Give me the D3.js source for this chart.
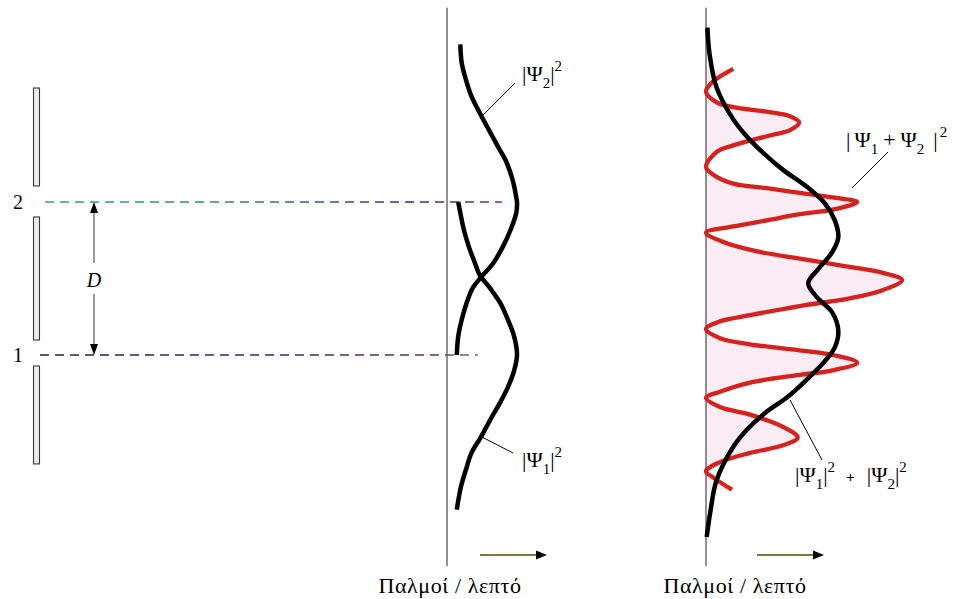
<!DOCTYPE html>
<html><head><meta charset="utf-8">
<script src="https://cdn.jsdelivr.net/npm/d3@7"></script>
<style>html,body{margin:0;padding:0;background:#fff;} svg{display:block;}</style>
</head><body>
<svg id="chart" width="957" height="599"></svg>
<script>
// ---- DATA (vertical positions in units of slit separation D: slit 1 = 0, slit 2 = 1) ----
const slitLabels = ["1", "2"];
const slitPositions = [0, 1];
const barrierTop = [1.745, 0.902, -0.072];
const barrierBottom = [1.105, 0.098, -0.712];
const screenTop = 2.27;
const screenBottom = -1.38;

// |Psi2|^2 (middle panel)
const psi2Pos = [2.03, 1.91, 1.80, 1.69, 1.58, 1.47, 1.36, 1.26, 1.14, 1.03, 1.00, 0.93, 0.82, 0.71, 0.60, 0.51, 0.44, 0.34, 0.23, 0.12, 0.00];
const psi2Val = [0.19, 0.21, 0.27, 0.35, 0.47, 0.60, 0.73, 0.85, 0.94, 0.99, 1.00, 0.99, 0.91, 0.80, 0.66, 0.49, 0.37, 0.28, 0.21, 0.16, 0.14];
// |Psi1|^2 (middle panel)
const psi1Pos = [1.00, 0.93, 0.82, 0.71, 0.60, 0.52, 0.44, 0.34, 0.23, 0.12, 0.00, -0.10, -0.21, -0.31, -0.43, -0.54, -0.64, -0.75, -0.86, -1.01];
const psi1Val = [0.16, 0.19, 0.24, 0.31, 0.40, 0.47, 0.61, 0.76, 0.87, 0.96, 1.00, 0.96, 0.87, 0.76, 0.61, 0.48, 0.35, 0.27, 0.20, 0.14];
// |Psi1|^2 + |Psi2|^2 (right panel, black)
const sumPos = [2.14, 1.97, 1.75, 1.54, 1.43, 1.32, 1.21, 1.10, 0.99, 0.88, 0.77, 0.67, 0.56, 0.47, 0.38, 0.28, 0.16, 0.05, -0.05, -0.16, -0.28, -0.38, -0.49, -0.60, -0.82, -1.03, -1.19];
const sumVal = [0.02, 0.05, 0.15, 0.39, 0.58, 0.82, 1.10, 1.44, 1.70, 1.84, 1.89, 1.80, 1.60, 1.46, 1.58, 1.80, 1.89, 1.84, 1.68, 1.44, 1.15, 0.84, 0.58, 0.39, 0.15, 0.06, 0.01];
// |Psi1 + Psi2|^2 (right panel, red)
const interfPos = [1.87, 1.82, 1.77, 1.72, 1.65, 1.62, 1.59, 1.56, 1.52, 1.47, 1.43, 1.37, 1.33, 1.23, 1.18, 1.12, 1.09, 1.06, 1.03, 1.00, 0.95, 0.92, 0.88, 0.84, 0.80, 0.74, 0.68, 0.63, 0.58, 0.54, 0.49, 0.42, 0.37, 0.32, 0.26, 0.22, 0.17, 0.11, 0.07, 0.03, 0.00, -0.05, -0.10, -0.13, -0.18, -0.24, -0.28, -0.34, -0.39, -0.47, -0.54, -0.59, -0.64, -0.70, -0.76, -0.80, -0.88];
const interfVal = [0.39, 0.20, 0.06, 0.00, 0.16, 0.39, 0.87, 1.20, 1.33, 1.20, 0.87, 0.39, 0.16, 0.00, 0.10, 0.39, 0.87, 1.34, 1.81, 2.16, 1.81, 1.34, 0.87, 0.39, 0.00, 0.24, 0.70, 1.34, 2.00, 2.50, 2.80, 2.50, 2.05, 1.34, 0.63, 0.20, 0.00, 0.20, 0.63, 1.34, 1.81, 2.16, 1.81, 1.34, 0.63, 0.20, 0.00, 0.20, 0.63, 1.10, 1.31, 1.10, 0.63, 0.20, 0.00, 0.10, 0.37];

const axisLabel = "Παλμοί / λεπτό";
const distanceLabel = "D";

// ---- DRAWING ----
const svg = d3.select("#chart");
const serif = "'Liberation Serif','Times New Roman',serif";
const y = d3.scaleLinear().domain([0, 1]).range([355, 202]);
const xMid = d3.scaleLinear().domain([0, 1]).range([447, 517]);
const xRight = d3.scaleLinear().domain([0, 1]).range([706, 776]);

const defs = svg.append("defs");
function grad(id, x1, x2, stops) {
  const g = defs.append("linearGradient").attr("id", id).attr("gradientUnits", "userSpaceOnUse")
    .attr("x1", x1).attr("x2", x2).attr("y1", 0).attr("y2", 0);
  stops.forEach(([o, c]) => g.append("stop").attr("offset", o).attr("stop-color", c));
}
grad("g2", 45, 502, [[0, "#2aa58f"], [0.45, "#2f73b0"], [0.8, "#2a2f9a"], [1, "#8a2a5a"]]);
grad("g1", 40, 478, [[0, "#1b1f5e"], [0.6, "#2a2f8a"], [0.9, "#7a2a50"], [1, "#3a8a70"]]);

// dashed lines from slits
svg.append("line").attr("x1", 45).attr("x2", 502).attr("y1", y(1)).attr("y2", y(1))
  .attr("stroke", "url(#g2)").attr("stroke-width", 1.4).attr("stroke-dasharray", "9,6");
svg.append("line").attr("x1", 40).attr("x2", 478).attr("y1", y(0)).attr("y2", y(0))
  .attr("stroke", "url(#g1)").attr("stroke-width", 1.4).attr("stroke-dasharray", "9,6");

// barrier with slits
barrierTop.forEach((t, i) => {
  svg.append("rect").attr("x", 33.5).attr("width", 6).attr("y", y(t)).attr("height", y(barrierBottom[i]) - y(t))
    .attr("fill", "#ececec").attr("stroke", "#3a3a3a").attr("stroke-width", 1.1);
});
slitLabels.forEach((s, i) => {
  svg.append("text").attr("x", 18).attr("y", y(slitPositions[i]) + 7).attr("text-anchor", "middle")
    .attr("font-family", serif).attr("font-size", 20).text(s);
});

// D arrow
const ax = 94;
svg.append("line").attr("x1", ax).attr("x2", ax).attr("y1", y(1) + 9).attr("y2", 263).attr("stroke", "#333").attr("stroke-width", 1);
svg.append("line").attr("x1", ax).attr("x2", ax).attr("y1", 294).attr("y2", y(0) - 9).attr("stroke", "#333").attr("stroke-width", 1);
svg.append("path").attr("d", `M${ax},${y(1)} L${ax - 4},${y(1) + 11} L${ax + 4},${y(1) + 11} Z`).attr("fill", "#000");
svg.append("path").attr("d", `M${ax},${y(0)} L${ax - 4},${y(0) - 11} L${ax + 4},${y(0) - 11} Z`).attr("fill", "#000");
svg.append("text").attr("x", ax).attr("y", 287).attr("text-anchor", "middle").attr("font-family", serif)
  .attr("font-style", "italic").attr("font-size", 20).text(distanceLabel);

// axes (screens)
svg.append("line").attr("x1", xMid(0)).attr("x2", xMid(0)).attr("y1", y(screenTop)).attr("y2", y(screenBottom))
  .attr("stroke", "#555").attr("stroke-width", 1.3);

// middle panel curves
const lineMid = d3.line().x(d => xMid(d[1])).y(d => y(d[0])).curve(d3.curveCatmullRom);
const psi2 = psi2Pos.map((p, i) => [p, psi2Val[i]]);
const psi1 = psi1Pos.map((p, i) => [p, psi1Val[i]]);
[psi2, psi1].forEach(d => svg.append("path").attr("d", lineMid(d)).attr("fill", "none")
  .attr("stroke", "#000").attr("stroke-width", 4.5));

// right panel
const interf = interfPos.map((p, i) => [p, interfVal[i]]);
const sum = sumPos.map((p, i) => [p, sumVal[i]]);
const area = d3.area().y(d => y(d[0])).x0(xRight(0)).x1(d => xRight(Math.max(0, d[1]))).curve(d3.curveCatmullRom);
svg.append("path").attr("d", area(interf)).attr("fill", "#f9edf3");
svg.append("line").attr("x1", xRight(0)).attr("x2", xRight(0)).attr("y1", y(screenTop)).attr("y2", y(screenBottom))
  .attr("stroke", "#555").attr("stroke-width", 1.3);
const lineRight = d3.line().x(d => xRight(d[1])).y(d => y(d[0])).curve(d3.curveCatmullRom);
svg.append("path").attr("d", lineRight(interf)).attr("fill", "none").attr("stroke", "#d8201c").attr("stroke-width", 4.3);
svg.append("path").attr("d", lineRight(sum)).attr("fill", "none").attr("stroke", "#000").attr("stroke-width", 4.5);

// leaders
[[515, 83, 483, 115], [513, 453, 482, 437], [888, 152, 852, 188], [822, 460, 790, 400]].forEach(([a, b, c, d]) => {
  svg.append("line").attr("x1", a).attr("y1", b).attr("x2", c).attr("y2", d).attr("stroke", "#000").attr("stroke-width", 1);
});

// rich labels
function rich(x, yb, parts, fs) {
  const t = svg.append("text").attr("x", x).attr("y", yb).attr("font-family", serif).attr("font-size", fs);
  let cur = 0;
  parts.forEach(([s, type, dx]) => {
    const target = type === "sub" ? fs * 0.3 : type === "sup" ? -fs * 0.45 : 0;
    const ts = t.append("tspan").text(s).attr("dy", target - cur);
    if (dx) ts.attr("dx", dx);
    cur = target;
    if (type === "sub" || type === "sup") ts.attr("font-size", fs * 0.68);
    if (type === "plus") ts.attr("font-weight", "bold").attr("font-size", fs * 0.7);
  });
}
rich(522, 81, [["|Ψ", "n"], ["2", "sub"], ["|", "n"], ["2", "sup"]], 22);
rich(522, 467, [["|Ψ", "n"], ["1", "sub"], ["|", "n"], ["2", "sup"]], 22);
rich(846, 147, [["|", "n"], ["Ψ", "n", 4], ["1", "sub"], ["+", "n", 5], ["Ψ", "n", 5], ["2", "sub"], ["|", "n", 9], ["2", "sup", 2]], 22);
rich(795, 482, [["|Ψ", "n"], ["1", "sub"], ["|", "n"], ["2", "sup"], ["+", "plus", 11], ["|Ψ", "n", 12], ["2", "sub"], ["|", "n"], ["2", "sup"]], 22);

// bottom arrows
[[480, 547], [757, 824]].forEach(([a, b]) => {
  svg.append("line").attr("x1", a).attr("x2", b - 9).attr("y1", 555).attr("y2", 555).attr("stroke", "#7d7a3a").attr("stroke-width", 2);
  svg.append("path").attr("d", `M${b},555 L${b - 11},550.5 L${b - 11},559.5 Z`).attr("fill", "#000");
});
// bottom labels
[450, 735].forEach(cx => {
  svg.append("text").attr("x", cx).attr("y", 593).attr("text-anchor", "middle").attr("font-family", serif)
    .attr("font-size", 22).attr("letter-spacing", 0.6).text(axisLabel);
});
</script>
</body></html>
